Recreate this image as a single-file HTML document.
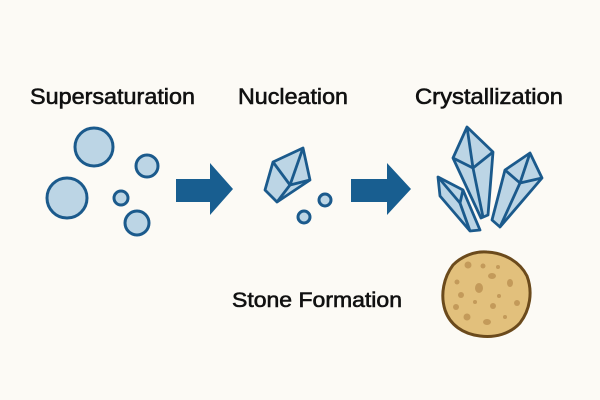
<!DOCTYPE html>
<html><head><style>
body{margin:0;background:#fcfaf5;}
svg{display:block}
text{font-family:"Liberation Sans",sans-serif;fill:#111;stroke:#111;stroke-width:0.6;}
</style></head><body>
<svg width="600" height="400" viewBox="0 0 600 400">
<rect width="600" height="400" fill="#fcfaf5"/>
<text x="30" y="104" font-size="22" textLength="165" lengthAdjust="spacingAndGlyphs">Supersaturation</text>
<text x="238" y="104" font-size="22" textLength="110" lengthAdjust="spacingAndGlyphs">Nucleation</text>
<text x="415" y="104" font-size="22" textLength="148" lengthAdjust="spacingAndGlyphs">Crystallization</text>
<text x="232" y="307" font-size="21" textLength="170" lengthAdjust="spacingAndGlyphs">Stone Formation</text>
<g fill="#bcd5e5" stroke="#1b5a8c" stroke-width="3">
<circle cx="94" cy="147" r="19"/>
<circle cx="67" cy="198" r="20"/>
<circle cx="147" cy="166" r="11"/>
<circle cx="121" cy="198" r="7"/>
<circle cx="137" cy="223" r="12"/>
<circle cx="304" cy="217" r="6"/>
<circle cx="325" cy="200" r="6"/>
</g>
<g fill="#185e90">
<polygon points="176,179 210,179 210,163 233,189 210,215 210,202 176,202"/>
<polygon points="351,179 387,179 387,163 411,189 387,215 387,202 351,202"/>
</g>
<g fill="#bcd5e5" stroke="#1b5a8c" stroke-width="2.8" stroke-linejoin="round">
<polygon points="273,162 303,148 310,180 277,202 265,190"/>
<line x1="273" y1="162" x2="290" y2="185"/>
<line x1="303" y1="148" x2="290" y2="185"/>
<line x1="290" y1="185" x2="310" y2="180"/>
<line x1="290" y1="185" x2="277" y2="202"/>
<polygon points="438,177 463,190 480,230 470,231 440,196"/>
<line x1="438" y1="177" x2="460" y2="203"/>
<line x1="460" y1="203" x2="463" y2="190"/>
<line x1="460" y1="203" x2="470" y2="231"/>
<polygon points="467,127 493,152 488,215 481,218 453,158"/>
<line x1="467" y1="127" x2="473" y2="168"/>
<line x1="453" y1="158" x2="473" y2="168"/>
<line x1="473" y1="168" x2="493" y2="152"/>
<line x1="473" y1="168" x2="483" y2="217"/>
<polygon points="505,170 530,153 542,178 500,227 492,220"/>
<line x1="505" y1="170" x2="520" y2="183"/>
<line x1="520" y1="183" x2="542" y2="178"/>
<line x1="530" y1="153" x2="520" y2="183"/>
<line x1="520" y1="183" x2="500" y2="227"/>
</g>
<path d="M487,252 C505,253 520,262 527,276 C533,292 530,310 520,323 C510,334 495,338 480,336 C463,334 450,325 445,310 C440,294 444,277 453,265 C462,256 475,251 487,252Z" fill="#e2c07c" stroke="#6b4a1c" stroke-width="3"/>
<g fill="#c39a5a">
<circle cx="468" cy="265" r="3.5"/><circle cx="483" cy="266" r="2.5"/><circle cx="498" cy="267" r="2"/>
<ellipse cx="492" cy="276" rx="4" ry="3"/><ellipse cx="510" cy="283" rx="3" ry="4"/>
<circle cx="457" cy="282" r="2.5"/><ellipse cx="479" cy="288" rx="4" ry="5"/>
<circle cx="461" cy="295" r="3"/><circle cx="499" cy="296" r="2"/><circle cx="517" cy="303" r="3"/>
<circle cx="475" cy="302" r="2"/><circle cx="493" cy="306" r="3"/><circle cx="456" cy="307" r="3"/>
<circle cx="467" cy="317" r="3.5"/><ellipse cx="487" cy="322" rx="4" ry="3"/><circle cx="505" cy="317" r="2"/>
</g>
</svg>
</body></html>
